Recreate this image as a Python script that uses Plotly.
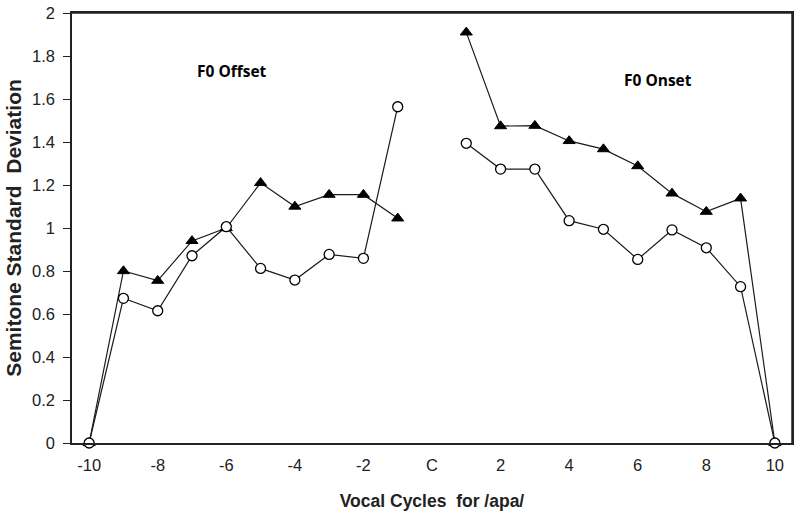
import plotly.graph_objects as go

x_offset = [-10, -9, -8, -7, -6, -5, -4, -3, -2, -1]
x_onset = [1, 2, 3, 4, 5, 6, 7, 8, 9, 10]

tri_offset = [0, 0.80, 0.755, 0.94, 1.00, 1.21, 1.10, 1.155, 1.155, 1.045]
circ_offset = [0, 0.673, 0.615, 0.871, 1.006, 0.812, 0.758, 0.877, 0.859, 1.564]
tri_onset = [1.91, 1.474, 1.476, 1.405, 1.367, 1.288, 1.161, 1.076, 1.138, 0]
circ_onset = [1.394, 1.274, 1.274, 1.034, 0.994, 0.854, 0.991, 0.908, 0.727, 0]

xtick_vals = [-10, -8, -6, -4, -2, 0, 2, 4, 6, 8, 10]
xtick_text = ["-10", "-8", "-6", "-4", "-2", "C", "2", "4", "6", "8", "10"]
ytick_vals = [0, 0.2, 0.4, 0.6, 0.8, 1, 1.2, 1.4, 1.6, 1.8, 2]
ytick_text = ["0", "0.2", "0.4", "0.6", "0.8", "1", "1.2", "1.4", "1.6", "1.8", "2"]

FONT = "Liberation Sans Narrow, Arial Narrow, Liberation Sans, Arial"
ANN = "Open Sans, Liberation Sans"

fig = go.Figure()

line = dict(color="#1a1a1a", width=1.2)
tri_marker = dict(symbol="triangle-up", size=10.5, color="black", line=dict(color="black", width=1))
circ_marker = dict(symbol="circle", size=10, color="white", line=dict(color="black", width=1.3))

for xs, ys in [(x_offset, tri_offset), (x_onset, tri_onset)]:
    fig.add_trace(go.Scatter(x=xs, y=ys, mode="lines+markers", line=line,
                             marker=tri_marker, showlegend=False, cliponaxis=False))
for xs, ys in [(x_offset, circ_offset), (x_onset, circ_onset)]:
    fig.add_trace(go.Scatter(x=xs, y=ys, mode="lines+markers", line=line,
                             marker=circ_marker, showlegend=False, cliponaxis=False))

fig.add_annotation(x=-5.84, y=1.73, text="<b>F0 Offset</b>", showarrow=False,
                   font=dict(family=ANN, size=15.5, color="black"))
fig.add_annotation(x=6.59, y=1.69, text="<b>F0 Onset</b>", showarrow=False,
                   font=dict(family=ANN, size=15.5, color="black"))

# plot frame (top and right edges)
fig.add_shape(type="line", xref="paper", yref="paper", x0=0, y0=1, x1=1, y1=1,
              line=dict(color="#222", width=1.5), layer="above")
fig.add_shape(type="line", xref="paper", yref="paper", x0=1, y0=0, x1=1, y1=1,
              line=dict(color="#222", width=1.5), layer="above")

fig.update_layout(
    width=800, height=514,
    margin=dict(l=72, r=8, t=13, b=71),
    paper_bgcolor="white", plot_bgcolor="white",
    font=dict(family=FONT, size=14, color="#222"),
)
fig.update_xaxes(
    range=[-10.5, 10.5], tickvals=xtick_vals, ticktext=xtick_text,
    showgrid=False, zeroline=False, showline=True, linecolor="#222", linewidth=1.5,
    mirror=True, ticks="", ticklabelstandoff=6, automargin=False,
    tickfont=dict(family=FONT, size=16.5, color="#222"),
    title=dict(text="<b>Vocal Cycles  for /apa/</b>", font=dict(family=FONT, size=17.5, color="#222"),
               standoff=22),
)
fig.update_yaxes(
    range=[0, 2], tickvals=ytick_vals, ticktext=ytick_text,
    showgrid=False, zeroline=False, showline=True, linecolor="#222", linewidth=1.5,
    mirror=True, ticks="outside", ticklen=7, tickcolor="#222", automargin=False,
    ticklabelstandoff=5,
    tickfont=dict(family=FONT, size=16.5, color="#222"),
    title=dict(text="<b>Semitone Standard  Deviation</b>", font=dict(family=FONT, size=21, color="#222"),
               standoff=5),
)

fig.write_html(
    "out.html",
    config={"displayModeBar": False},
    post_script="document.body.style.margin='0';document.body.style.overflow='hidden';",
)
